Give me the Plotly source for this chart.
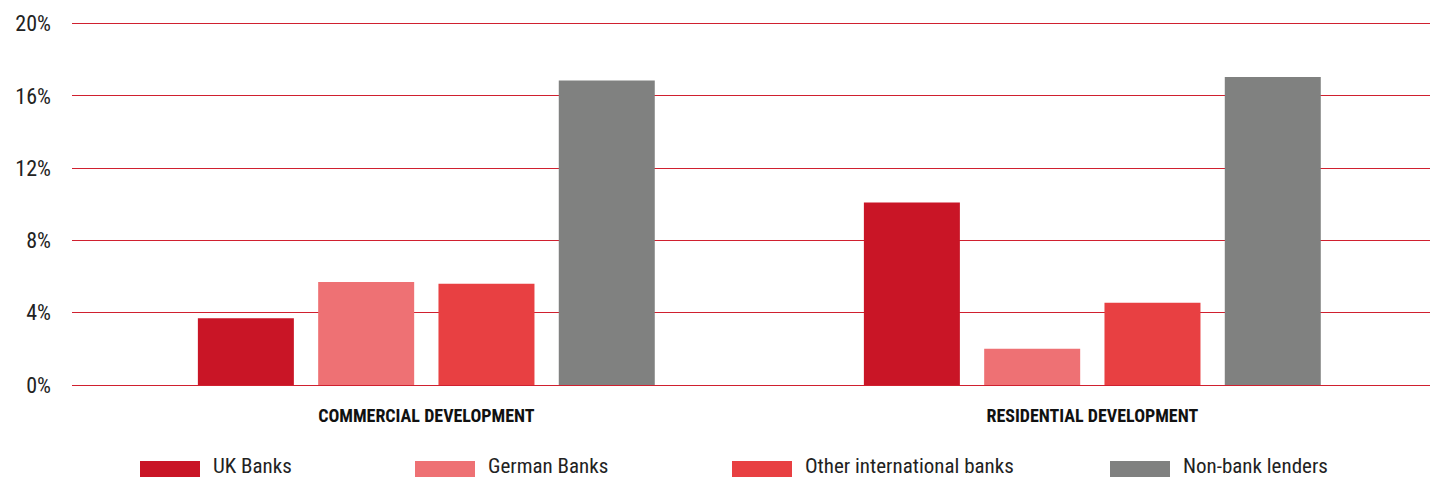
import plotly.graph_objects as go

categories = ["COMMERCIAL DEVELOPMENT", "RESIDENTIAL DEVELOPMENT"]
series_names = ["UK Banks", "German Banks", "Other international banks", "Non-bank lenders"]
uk_banks = [3.7, 10.1]
german_banks = [5.7, 2.0]
other_international = [5.6, 4.55]
non_bank = [16.85, 17.05]
series_values = [uk_banks, german_banks, other_international, non_bank]
colors = ["#C91526", "#EE7174", "#E84042", "#808180"]
y_ticks = [0, 4, 8, 12, 16, 20]
y_tick_labels = ["0%", "4%", "8%", "12%", "16%", "20%"]

FONT = "Liberation Sans Narrow, Roboto Condensed, Arial Narrow, Roboto, sans-serif"
W, H = 1430, 477
Y_TOP = 20.15
ML, MR, MB = 72, 0, 92
MT = (H - MB) - Y_TOP * (361 / 20)
PW, PH = W - ML - MR, H - MT - MB

fig = go.Figure()
for name, vals, col in zip(series_names, series_values, colors):
    fig.add_trace(go.Bar(x=categories, y=vals, name=name, marker=dict(color=col, line=dict(width=0)),
                         showlegend=False))

def px(x):
    return (x - ML) / PW

def py(y):
    return (H - MB - y) / PH

# manual legend
swatch_x = [140, 415, 732, 1110]
shapes = []
annotations = []
for sx, name, col in zip(swatch_x, series_names, colors):
    shapes.append(dict(type="rect", xref="paper", yref="paper", x0=px(sx), x1=px(sx + 60),
                       y0=py(478), y1=py(461), fillcolor=col, line=dict(width=0), layer="above"))
    annotations.append(dict(xref="paper", yref="paper", x=px(sx + 72), y=py(466), text=name,
                            showarrow=False, xanchor="left", yanchor="middle", borderpad=0,
                            height=20, valign="middle",
                            font=dict(family=FONT, size=21, color="#222222")))

fig.update_layout(
    width=W, height=H,
    margin=dict(l=ML, r=MR, t=MT, b=MB, pad=0),
    paper_bgcolor="white", plot_bgcolor="white",
    barmode="group", bargap=0.2775, bargroupgap=0.202,
    font=dict(family=FONT, color="#222222"),
    shapes=shapes, annotations=annotations,
    showlegend=False,
)
fig.update_yaxes(range=[0, Y_TOP], tickvals=y_ticks, ticktext=y_tick_labels,
                 showgrid=True, gridcolor="#D0202F", gridwidth=1,
                 zeroline=True, zerolinecolor="#D0202F", zerolinewidth=1,
                 showline=False, ticks="", ticklabelstandoff=20,
                 tickfont=dict(family=FONT, size=22, color="#222222", weight="normal"))
fig.update_xaxes(range=[-0.532, 1.507], showgrid=False, showline=False, ticks="",
                 ticklabelstandoff=18,
                 tickfont=dict(family=FONT, size=18, color="#111111", weight="bold"))

fig.write_html("out.html", config={"displayModeBar": False},
               post_script="document.body.style.margin='0';document.body.style.overflow='hidden';")
